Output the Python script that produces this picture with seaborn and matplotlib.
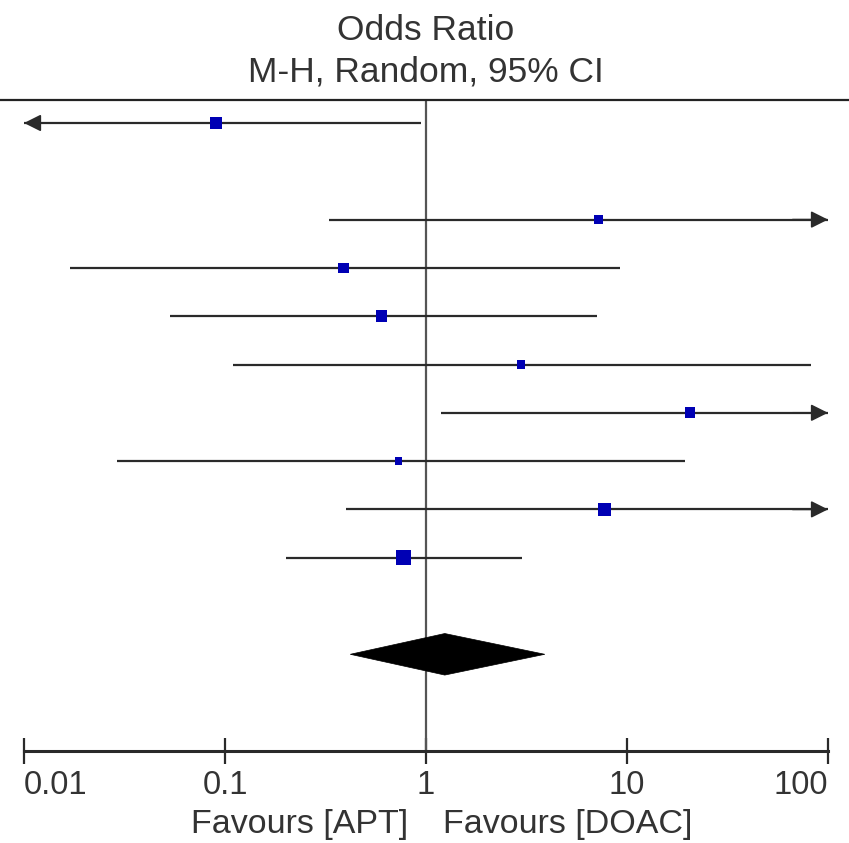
import numpy as np
import pandas as pd
import matplotlib
matplotlib.use("Agg")
import matplotlib.pyplot as plt
from matplotlib.lines import Line2D
from matplotlib.patches import Polygon
import seaborn as sns

# ---- data ----
odds_ratio = [0.09, np.nan, 7.2, 0.39, 0.60, 2.97, 20.6, 0.73, 7.7, 0.77]
ci_lower   = [0.004, np.nan, 0.33, 0.017, 0.053, 0.11, 1.19, 0.029, 0.40, 0.20]
ci_upper   = [0.94, np.nan, 150.0, 9.2, 7.1, 82.0, 150.0, 19.4, 150.0, 3.0]
weight     = [12.4, np.nan, 8.3, 10.2, 12.4, 6.6, 10.2, 5.0, 14.8, 20.1]
pooled_or, pooled_lo, pooled_hi = 1.24, 0.42, 3.9
tick_values = [0.01, 0.1, 1, 10, 100]
tick_labels = ["0.01", "0.1", "1", "10", "100"]
title_lines = ["Odds Ratio", "M-H, Random, 95% CI"]
favours_left = "Favours [APT]"
favours_right = "Favours [DOAC]"

sns.set_theme(style="white")
plt.rcParams["font.family"] = ["Liberation Sans", "DejaVu Sans"]

df = pd.DataFrame({"or": odds_ratio, "lo": ci_lower, "hi": ci_upper, "w": weight})
df["row"] = np.arange(1, len(df) + 1)
pooled_row = len(df) + 2
XMIN, XMAX = 0.01, 100

W, H = 849, 843
fig = plt.figure(figsize=(W / 100, H / 100), dpi=100)
top_px, bot_px, left_px, right_px = 100, 751, 24, 828
ax = fig.add_axes([left_px / W, 1 - bot_px / H, (right_px - left_px) / W, (bot_px - top_px) / H])

line_col = "#2a2a2a"
text_col = "#333333"
blue = "#0000b4"

arrow_style = "-|>,head_length=0.8,head_width=0.4"

# CI lines
for _, r in df.dropna().iterrows():
    lo = max(r.lo, XMIN)
    hi = min(r.hi, XMAX)
    ax.hlines(r.row, lo, hi, color=line_col, lw=1.6, zorder=2)
    if r.lo < XMIN:
        ax.annotate("", xy=(XMIN, r.row), xytext=(XMIN * 1.5, r.row),
                    arrowprops=dict(arrowstyle=arrow_style, color=line_col, lw=1.2,
                                    shrinkA=0, shrinkB=0, mutation_scale=13), zorder=3)
    if r.hi > XMAX:
        ax.annotate("", xy=(XMAX, r.row), xytext=(XMAX / 1.5, r.row),
                    arrowprops=dict(arrowstyle=arrow_style, color=line_col, lw=1.2,
                                    shrinkA=0, shrinkB=0, mutation_scale=13), zorder=3)

# point estimates
sns.scatterplot(data=df.dropna(), x="or", y="row", size="w", sizes=(0, 115),
                size_norm=(0, max(w for w in weight if not np.isnan(w))),
                marker="s", color=blue, edgecolor="none", linewidth=0,
                legend=False, ax=ax, zorder=4)

# pooled diamond
ax.add_patch(Polygon([[pooled_lo, pooled_row], [pooled_or, pooled_row - 0.43],
                      [pooled_hi, pooled_row], [pooled_or, pooled_row + 0.43]],
                     closed=True, facecolor="black", edgecolor="black", lw=0.5, zorder=4))

# line of no effect
ax.axvline(1, color="#555555", lw=1.6, zorder=1)

ax.set_xscale("log")
ax.set_xlim(XMIN, XMAX)
row_px = 48.3
first_px = 123
ax.set_ylim(1 + (bot_px - first_px) / row_px, 1 - (first_px - top_px) / row_px)

for s in ["top", "left", "right"]:
    ax.spines[s].set_visible(False)
ax.spines["bottom"].set_color(line_col)
ax.spines["bottom"].set_linewidth(2.2)
ax.set_xticks(tick_values)
ax.set_xticklabels(tick_labels)
ax.xaxis.set_minor_locator(matplotlib.ticker.NullLocator())
ax.tick_params(axis="x", which="major", direction="inout", length=19, width=1.6,
               color=line_col, labelsize=23.5, labelcolor=text_col, pad=4, bottom=True)
labels = ax.get_xticklabels()
labels[0].set_horizontalalignment("left")
labels[-1].set_horizontalalignment("right")
ax.set_yticks([])
ax.set_xlabel("")
ax.set_ylabel("")

# top rule spanning the full width
fig.add_artist(Line2D([0, 1], [1 - top_px / H] * 2, transform=fig.transFigure,
                      color="#222222", lw=1.6))

# header
x1_fig = 426 / W
fig.text(x1_fig, 1 - 30 / H, title_lines[0], ha="center", va="center",
         fontsize=25.5, color=text_col)
fig.text(x1_fig, 1 - 72 / H, title_lines[1], ha="center", va="center",
         fontsize=25.5, color=text_col)

# favours labels
fig.text(408 / W, 1 - 825 / H, favours_left, ha="right", va="center",
         fontsize=24.5, color=text_col)
fig.text(443 / W, 1 - 825 / H, favours_right, ha="left", va="center",
         fontsize=24.5, color=text_col)

fig.savefig("out.png", dpi=100, facecolor="white")
